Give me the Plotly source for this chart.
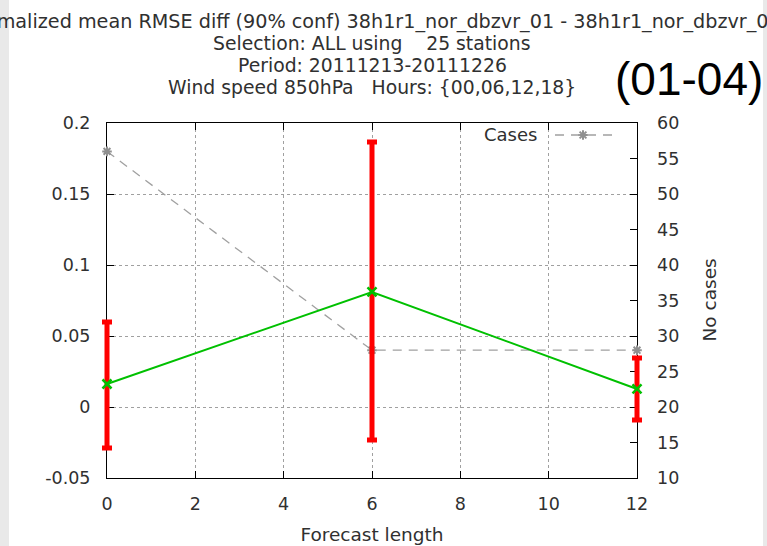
import plotly.graph_objects as go

# Forecast lengths (hours) and normalized RMSE difference with 90% confidence bounds
fc_length = [0, 6, 12]
rmse_diff = [0.0162, 0.0810, 0.0127]
conf_upper = [0.0599, 0.1866, 0.0345]
conf_lower = [-0.0289, -0.0232, -0.0092]

# Number of cases per forecast length
cases = [56, 28, 28]

# Axis ticks
x_range = [0, 12]
y_range = [-0.05, 0.2]
y2_range = [10, 60]
x_ticks = [0, 2, 4, 6, 8, 10, 12]
y_ticks = [-0.05, 0, 0.05, 0.1, 0.15, 0.2]
y_tick_text = ["-0.05", "0", "0.05", "0.1", "0.15", "0.2"]
y2_ticks = [10, 15, 20, 25, 30, 35, 40, 45, 50, 55, 60]

title_lines = [
    "Normalized mean RMSE diff (90% conf) 38h1r1_nor_dbzvr_01 - 38h1r1_nor_dbzvr_04",
    "Selection: ALL using    25 stations",
    "Period: 20111213-20111226",
    "Wind speed 850hPa   Hours: {00,06,12,18}",
]
title_sizes = [19.2, 18.8, 18.8, 18.8]

FONT = "DejaVu Sans"
TXT = "#303030"
GRID = "#a0a0a0"
GRAY = "#a0a0a0"
FRAME = "#e9e9e9"

W, H = 767, 546
PAD = 25                      # room left around the axes box for unclipped end marks
M_L, M_R, M_T, M_B = 107 - PAD, 130 - PAD, 123, 68
plot_w = W - M_L - M_R
plot_h = H - M_T - M_B
inner_w = plot_w - 2 * PAD
px_per_unit = inner_w / (x_range[1] - x_range[0])
pad_units = PAD / px_per_unit

err_plus = [u - m for u, m in zip(conf_upper, rmse_diff)]
err_minus = [m - l for m, l in zip(rmse_diff, conf_lower)]

fig = go.Figure()

# Empty traces so the framed base subplot (ticks, grid, box, right axis) is drawn
fig.add_trace(go.Scatter(x=[], y=[], xaxis="x", yaxis="y",
                         showlegend=False, hoverinfo="skip"))
fig.add_trace(go.Scatter(x=[], y=[], xaxis="x", yaxis="y2",
                         showlegend=False, hoverinfo="skip"))

# Data traces live on hidden axes that are a little wider than the visible
# box (same scale), so the error bars at 0 and 12 are not cut in half.
fig.add_trace(go.Scatter(
    x=fc_length, y=cases, xaxis="x4", yaxis="y5", mode="lines+markers",
    line=dict(color=GRAY, width=1.3, dash="9px,7px"),
    marker=dict(symbol="asterisk-open", size=8, color="#909090",
                line=dict(color="#909090", width=2)),
    showlegend=False, cliponaxis=False, name="Cases",
))

fig.add_trace(go.Scatter(
    x=fc_length, y=rmse_diff, xaxis="x4", yaxis="y4", mode="lines+markers",
    line=dict(color="#00c000", width=2),
    marker=dict(symbol="x-thin-open", size=9, color="#00c000",
                line=dict(color="#00c000", width=2.5)),
    error_y=dict(type="data", symmetric=False, array=err_plus,
                 arrayminus=err_minus, color="#ff0000", thickness=5, width=5),
    showlegend=False, cliponaxis=False,
))

# Legend key for the cases series, drawn inside the top-right corner
fig.add_trace(go.Scatter(
    x=[0.5], y=[0.5], xaxis="x3", yaxis="y3", mode="markers",
    marker=dict(symbol="asterisk-open", size=8, color="#909090",
                line=dict(color="#909090", width=2)),
    showlegend=False, hoverinfo="skip", cliponaxis=False,
))

dom0 = PAD / plot_w
dom1 = 1 - PAD / plot_w


def px_to_paper_x(px):
    return (px - M_L) / plot_w


def px_to_paper_y(py):
    return (H - M_B - py) / plot_h


annotations = []
for i, (line, size) in enumerate(zip(title_lines, title_sizes)):
    annotations.append(dict(
        text=line, xref="paper", yref="paper", x=0.5, y=1,
        yshift=102 - 22.3 * i, xanchor="center", yanchor="middle",
        showarrow=False, font=dict(family=FONT, size=size, color=TXT),
    ))
annotations.append(dict(
    text="(01-04)", xref="paper", yref="paper", x=1, y=1, xshift=103,
    yshift=44, xanchor="right", yanchor="middle", showarrow=False,
    font=dict(family="Liberation Sans", size=46, color="#000000"),
))
annotations.append(dict(
    text="Cases", xref="paper", yref="paper", x=px_to_paper_x(539),
    y=px_to_paper_y(135), xanchor="right", yanchor="middle", showarrow=False,
    font=dict(family=FONT, size=18, color=TXT),
))
annotations.append(dict(
    text="No cases", xref="paper", yref="paper", x=px_to_paper_x(709),
    y=0.5, xanchor="center", yanchor="middle", textangle=-90,
    showarrow=False, font=dict(family=FONT, size=18.5, color=TXT),
))

# Light grey page frame at the left and right edges
frame = [
    dict(type="rect", xref="paper", yref="paper", layer="above",
         x0=px_to_paper_x(0), x1=px_to_paper_x(9),
         y0=px_to_paper_y(H), y1=px_to_paper_y(0),
         fillcolor=FRAME, line=dict(width=0)),
    dict(type="rect", xref="paper", yref="paper", layer="above",
         x0=px_to_paper_x(763), x1=px_to_paper_x(W),
         y0=px_to_paper_y(H), y1=px_to_paper_y(0),
         fillcolor=FRAME, line=dict(width=0)),
]

fig.update_layout(
    width=W, height=H,
    margin=dict(l=M_L, r=M_R, t=M_T, b=M_B, autoexpand=False),
    paper_bgcolor="white", plot_bgcolor="rgba(0,0,0,0)",
    font=dict(family=FONT, size=17.5, color=TXT),
    annotations=annotations,
    shapes=[dict(type="line", xref="paper", yref="paper",
                 x0=px_to_paper_x(555), x1=px_to_paper_x(612),
                 y0=px_to_paper_y(135), y1=px_to_paper_y(135),
                 line=dict(color=GRAY, width=1.3, dash="9px,7px"))] + frame,
    xaxis=dict(
        domain=[dom0, dom1], range=x_range, tickvals=x_ticks,
        ticks="inside", ticklen=7, tickcolor="black", showline=True,
        linecolor="black", linewidth=1, mirror="ticks", showgrid=True,
        gridcolor=GRID, griddash="dot", gridwidth=1, zeroline=False,
        ticklabelstandoff=10, anchor="y", automargin=False,
        title=dict(text="Forecast length", standoff=15,
                   font=dict(size=18.5)),
    ),
    yaxis=dict(
        range=y_range, tickvals=y_ticks, ticktext=y_tick_text,
        ticks="inside", ticklen=7, tickcolor="black", showline=True,
        linecolor="black", linewidth=1, mirror=True, showgrid=True,
        gridcolor=GRID, griddash="dot", gridwidth=1, zeroline=False,
        ticklabelstandoff=12, anchor="x", automargin=False,
    ),
    yaxis2=dict(
        range=y2_range, tickvals=y2_ticks, overlaying="y", side="right",
        ticks="inside", ticklen=7, tickcolor="black", showline=False,
        showgrid=False, zeroline=False, anchor="x", ticklabelstandoff=19,
        automargin=False,
    ),
    xaxis4=dict(domain=[0, 1], visible=False, anchor="y5",
                range=[x_range[0] - pad_units, x_range[1] + pad_units]),
    yaxis5=dict(range=y2_range, visible=False, anchor="x4"),
    yaxis4=dict(range=y_range, visible=False, anchor="x4", overlaying="y5"),
    xaxis3=dict(domain=[px_to_paper_x(578), px_to_paper_x(588)],
                range=[0, 1], visible=False, anchor="y3"),
    yaxis3=dict(domain=[px_to_paper_y(140), px_to_paper_y(130)],
                range=[0, 1], visible=False, anchor="x3"),
)

fig.write_html("out.html")
